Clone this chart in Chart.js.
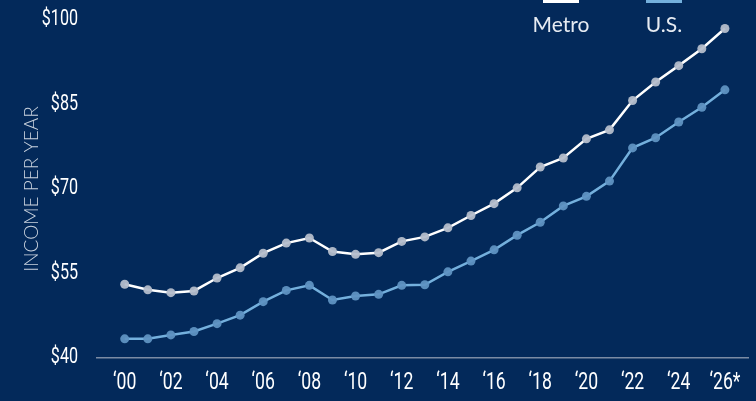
<!DOCTYPE html>
<html>
<head>
<meta charset="utf-8">
<script src="https://cdn.jsdelivr.net/npm/chart.js@4"></script>
<style>
  html, body { margin: 0; padding: 0; background: #03295a; }
  #wrap { width: 756px; height: 401px; position: relative; }
</style>
</head>
<body>
<div id="wrap"><canvas id="incomeChart"></canvas></div>
<script>
// Income per year, Metro vs U.S. (thousands of dollars)
const years = [2000, 2001, 2002, 2003, 2004, 2005, 2006, 2007, 2008, 2009, 2010, 2011, 2012, 2013,
  2014, 2015, 2016, 2017, 2018, 2019, 2020, 2021, 2022, 2023, 2024, 2025, 2026];
const metroIncome = [53.1, 52.1, 51.6, 51.9, 54.2, 56.0, 58.6, 60.4, 61.3, 58.9, 58.4, 58.7, 60.7, 61.5,
  63.1, 65.3, 67.4, 70.2, 73.9, 75.5, 78.9, 80.5, 85.7, 89.0, 91.9, 94.9, 98.5];
const usIncome = [43.4, 43.4, 44.1, 44.7, 46.1, 47.6, 50.0, 52.0, 52.9, 50.3, 51.0, 51.3, 52.9, 53.0,
  55.3, 57.2, 59.2, 61.8, 64.1, 67.0, 68.7, 71.4, 77.3, 79.1, 81.9, 84.5, 87.6];
const tickYears = [2000, 2002, 2004, 2006, 2008, 2010, 2012, 2014, 2016, 2018, 2020, 2022, 2024, 2026];
const tickLabels = ["\u201800", "\u201802", "\u201804", "\u201806", "\u201808", "\u201810", "\u201812",
  "\u201814", "\u201816", "\u201818", "\u201820", "\u201822", "\u201824", "\u201826*"];
const yTicks = [40, 55, 70, 85, 100];

// tick text is a narrow DIN-like face; squeeze Roboto sideways to get close
function narrowText(ctx, text, x, y, squeeze) {
  ctx.save();
  ctx.translate(x, y);
  ctx.scale(squeeze, 1);
  ctx.fillText(text, 0, 0);
  ctx.restore();
}

const narrowTicks = {
  id: "narrowTicks",
  afterDraw(chart) {
    const { ctx, scales } = chart;
    ctx.save();
    ctx.fillStyle = "#ffffff";
    ctx.textBaseline = "middle";

    ctx.font = "400 21.5px Roboto, sans-serif";
    ctx.textAlign = "right";
    yTicks.forEach((v) => {
      narrowText(ctx, "$" + v, scales.y.right - 19, scales.y.getPixelForValue(v), 0.75);
    });

    ctx.font = "400 23.5px Roboto, sans-serif";
    ctx.textAlign = "center";
    tickYears.forEach((v, i) => {
      narrowText(ctx, tickLabels[i], scales.x.getPixelForValue(v), scales.x.top + 25, 0.75);
    });
    ctx.restore();
  },
};

// legend: short line on top, name underneath
const topLegend = {
  id: "topLegend",
  afterDraw(chart) {
    const ctx = chart.ctx;
    const right = chart.chartArea.right;
    const sets = chart.data.datasets;
    ctx.save();
    ctx.font = "400 21px Lato, sans-serif";
    ctx.textAlign = "center";
    ctx.textBaseline = "middle";
    sets.forEach((ds, i) => {
      const cx = right - 84 - (sets.length - 1 - i) * 103;
      ctx.fillStyle = ds.borderColor;
      ctx.fillRect(cx - 18, 0, 36, 3);
      ctx.fillStyle = "#e6ebf2";
      ctx.fillText(ds.label, cx, 25);
    });
    ctx.restore();
  },
};

const ctx = document.getElementById("incomeChart").getContext("2d");
new Chart(ctx, {
  type: "line",
  data: {
    datasets: [
      {
        label: "Metro",
        data: years.map((y, i) => ({ x: y, y: metroIncome[i] })),
        borderColor: "#ffffff",
        borderWidth: 2.5,
        pointRadius: 4.5,
        pointBackgroundColor: "rgba(180,189,203,0.95)",
        pointBorderWidth: 0,
        tension: 0,
      },
      {
        label: "U.S.",
        data: years.map((y, i) => ({ x: y, y: usIncome[i] })),
        borderColor: "#74b0dd",
        borderWidth: 2.5,
        pointRadius: 4.5,
        pointBackgroundColor: "rgba(95,146,194,0.95)",
        pointBorderWidth: 0,
        tension: 0,
      },
    ],
  },
  options: {
    responsive: true,
    maintainAspectRatio: false,
    animation: false,
    layout: { padding: { top: 20, right: 8, left: 0, bottom: 0 } },
    scales: {
      x: {
        type: "linear",
        min: 1998.8,
        max: 2027,
        afterBuildTicks: (scale) => {
          scale.ticks = tickYears.map((v) => ({ value: v }));
        },
        afterFit: (scale) => {
          scale.height = 43;
        },
        grid: { display: false, drawTicks: false },
        border: { display: true, color: "#7b8ba4", width: 1.5 },
        ticks: { display: false },
      },
      y: {
        min: 40,
        max: 100,
        afterBuildTicks: (scale) => {
          scale.ticks = yTicks.map((v) => ({ value: v }));
        },
        afterFit: (scale) => {
          scale.width = 97;
        },
        grid: { display: false, drawTicks: false },
        border: { display: false },
        ticks: { display: false },
        title: {
          display: true,
          text: "INCOME PER YEAR",
          color: "#c9d2de",
          font: { family: "Lato, sans-serif", size: 19, weight: "300" },
          padding: { top: 20, bottom: 0 },
        },
      },
    },
    plugins: {
      legend: { display: false },
      tooltip: { enabled: false },
    },
  },
  plugins: [narrowTicks, topLegend],
});
</script>
</body>
</html>
